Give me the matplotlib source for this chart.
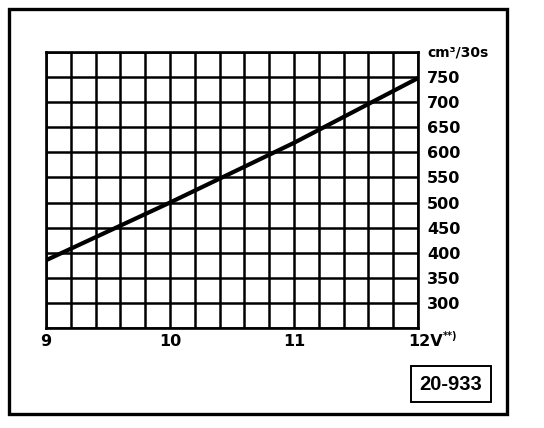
import matplotlib
matplotlib.use("Agg")
import matplotlib.pyplot as plt
from matplotlib.patches import Rectangle
from matplotlib.ticker import MultipleLocator
import numpy as np

# Data
voltage = [9, 10, 11, 12]
flow = [385, 500, 619, 748]

x_ticks = [9, 10, 11, 12]
x_tick_labels = ["9", "10", "11", ""]
y_ticks = [300, 350, 400, 450, 500, 550, 600, 650, 700, 750]
y_tick_labels = ["300", "350", "400", "450", "500", "550", "600", "650", "700", "750"]
unit_label = "cm³/30s"
x_end_label = "12V"
x_note = "**)"
code_label = "20-933"

W, H = 544, 428
fig = plt.figure(figsize=(W / 100, H / 100), dpi=100)
fig.patch.set_facecolor("white")

def px(x0, y0, x1, y1):
    return [x0 / W, 1 - y1 / H, (x1 - x0) / W, (y1 - y0) / H]

ax = fig.add_axes(px(46, 52, 418, 328))
ax.set_xlim(9, 12)
ax.set_ylim(250, 800)

ax.plot(voltage, flow, color="black", lw=3.0, solid_capstyle="butt", zorder=5)

ax.xaxis.set_minor_locator(MultipleLocator(0.2))
ax.yaxis.set_minor_locator(MultipleLocator(50))
ax.set_xticks(x_ticks)
ax.set_xticklabels(x_tick_labels)
ax.set_yticks(y_ticks)
ax.set_yticklabels(y_tick_labels)
ax.grid(which="both", color="black", lw=1.8)
ax.tick_params(which="both", length=0)
ax.tick_params(axis="y", left=False, labelleft=False, right=False, labelright=True, pad=6.5)
ax.tick_params(axis="x", pad=4)
for lab in ax.get_yticklabels() + ax.get_xticklabels():
    lab.set_fontfamily("DejaVu Sans")
    lab.set_fontweight("bold")
    lab.set_fontsize(11.5)
for s in ax.spines.values():
    s.set_linewidth(1.9)
    s.set_color("black")

# unit label at top right
fig.text(427 / W, 1 - 52 / H, unit_label, ha="left", va="center",
         fontsize=10, fontweight="bold", family="DejaVu Sans")

# 12V**) label
fig.text(408 / W, 1 - 341 / H, x_end_label, ha="left", va="center",
         fontsize=11.5, fontweight="bold", family="DejaVu Sans")
fig.text(443 / W, 1 - 336 / H, x_note, ha="left", va="center",
         fontsize=7, fontweight="bold", family="DejaVu Sans")

# outer frame
fig.patches.append(Rectangle((9 / W, 1 - 414 / H), (507 - 9) / W, (414 - 9) / H,
                             transform=fig.transFigure, fill=False, lw=2.4,
                             edgecolor="black"))
# code box
fig.patches.append(Rectangle((411 / W, 1 - 402 / H), (491 - 411) / W, (402 - 366) / H,
                             transform=fig.transFigure, fill=False, lw=1.4,
                             edgecolor="black"))
fig.text(451 / W, 1 - 384 / H, code_label, ha="center", va="center",
         fontsize=14.5, fontweight="bold",
         family=["Liberation Sans", "DejaVu Sans"])

fig.savefig("out.png", dpi=100)
